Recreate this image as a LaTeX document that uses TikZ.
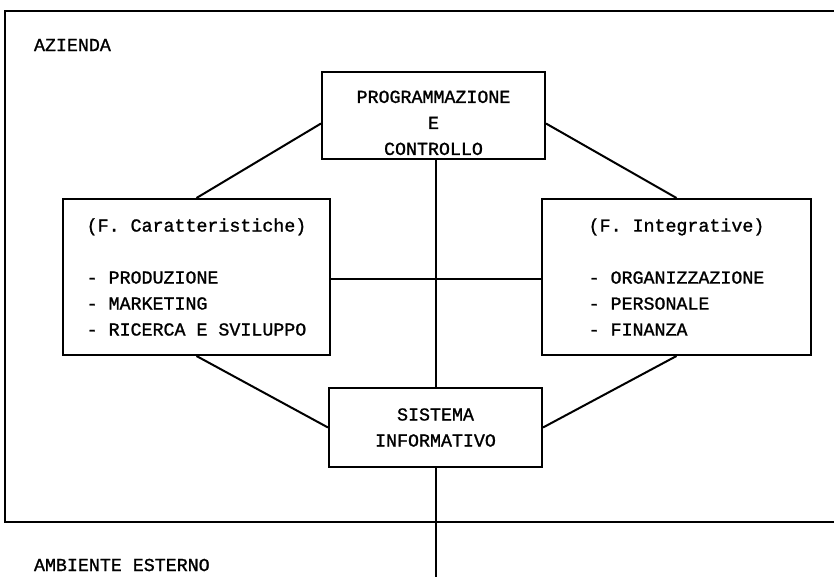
\documentclass[tikz,border=0pt]{standalone}
\usepackage{fontspec}
\setmonofont{Liberation Mono}[FakeBold=1.2]
\usetikzlibrary{calc}
\begin{document}
\begin{tikzpicture}[x=1pt,y=-1pt,
  line width=2pt,
  every node/.style={font=\ttfamily\fontsize{18.3}{26}\selectfont},
  box/.style={draw, rectangle, inner sep=0pt, align=center},
  lbl/.style={anchor=west, inner sep=0pt}]
\useasboundingbox (0,0) rectangle (834,576);
% outer frame of the company
\draw (850,11) -- (5,11) -- (5,522) -- (850,522);
\node[lbl] (az) at (33,45) {AZIENDA};
\node[lbl] (amb) at (33,565) {AMBIENTE ESTERNO};
% boxes
\node[box, minimum width=223pt, minimum height=87pt] (prog) at (433.5,115.5)
  {\mbox{}\\[1pt]PROGRAMMAZIONE\\E\\CONTROLLO};
\node[box, minimum width=267pt, minimum height=156pt, align=left] (lf) at (196.5,277)
  {(F. Caratteristiche)\\[26pt]- PRODUZIONE\\- MARKETING\\- RICERCA E SVILUPPO};
\node[box, minimum width=269pt, minimum height=156pt, align=left] (rt) at (676.5,277)
  {(F. Integrative)\\[26pt]- ORGANIZZAZIONE\\- PERSONALE\\- FINANZA};
\node[box, minimum width=213pt, minimum height=79pt] (sis) at (435.5,427.5)
  {SISTEMA\\INFORMATIVO};
% connectors
\coordinate (hub) at (436,279);
\coordinate (down) at (436,600);
\draw (prog.south -| hub) -- (sis.north -| hub);
\draw (sis.south -| hub) -- (down);
\draw (lf.east |- hub) -- (rt.west |- hub);
\draw ($(prog.west)+(0,8)$) -- (lf.north);
\draw ($(prog.east)+(0,8)$) -- (rt.north);
\draw (lf.south) -- (sis.west);
\draw (rt.south) -- (sis.east);
\end{tikzpicture}
\end{document}
